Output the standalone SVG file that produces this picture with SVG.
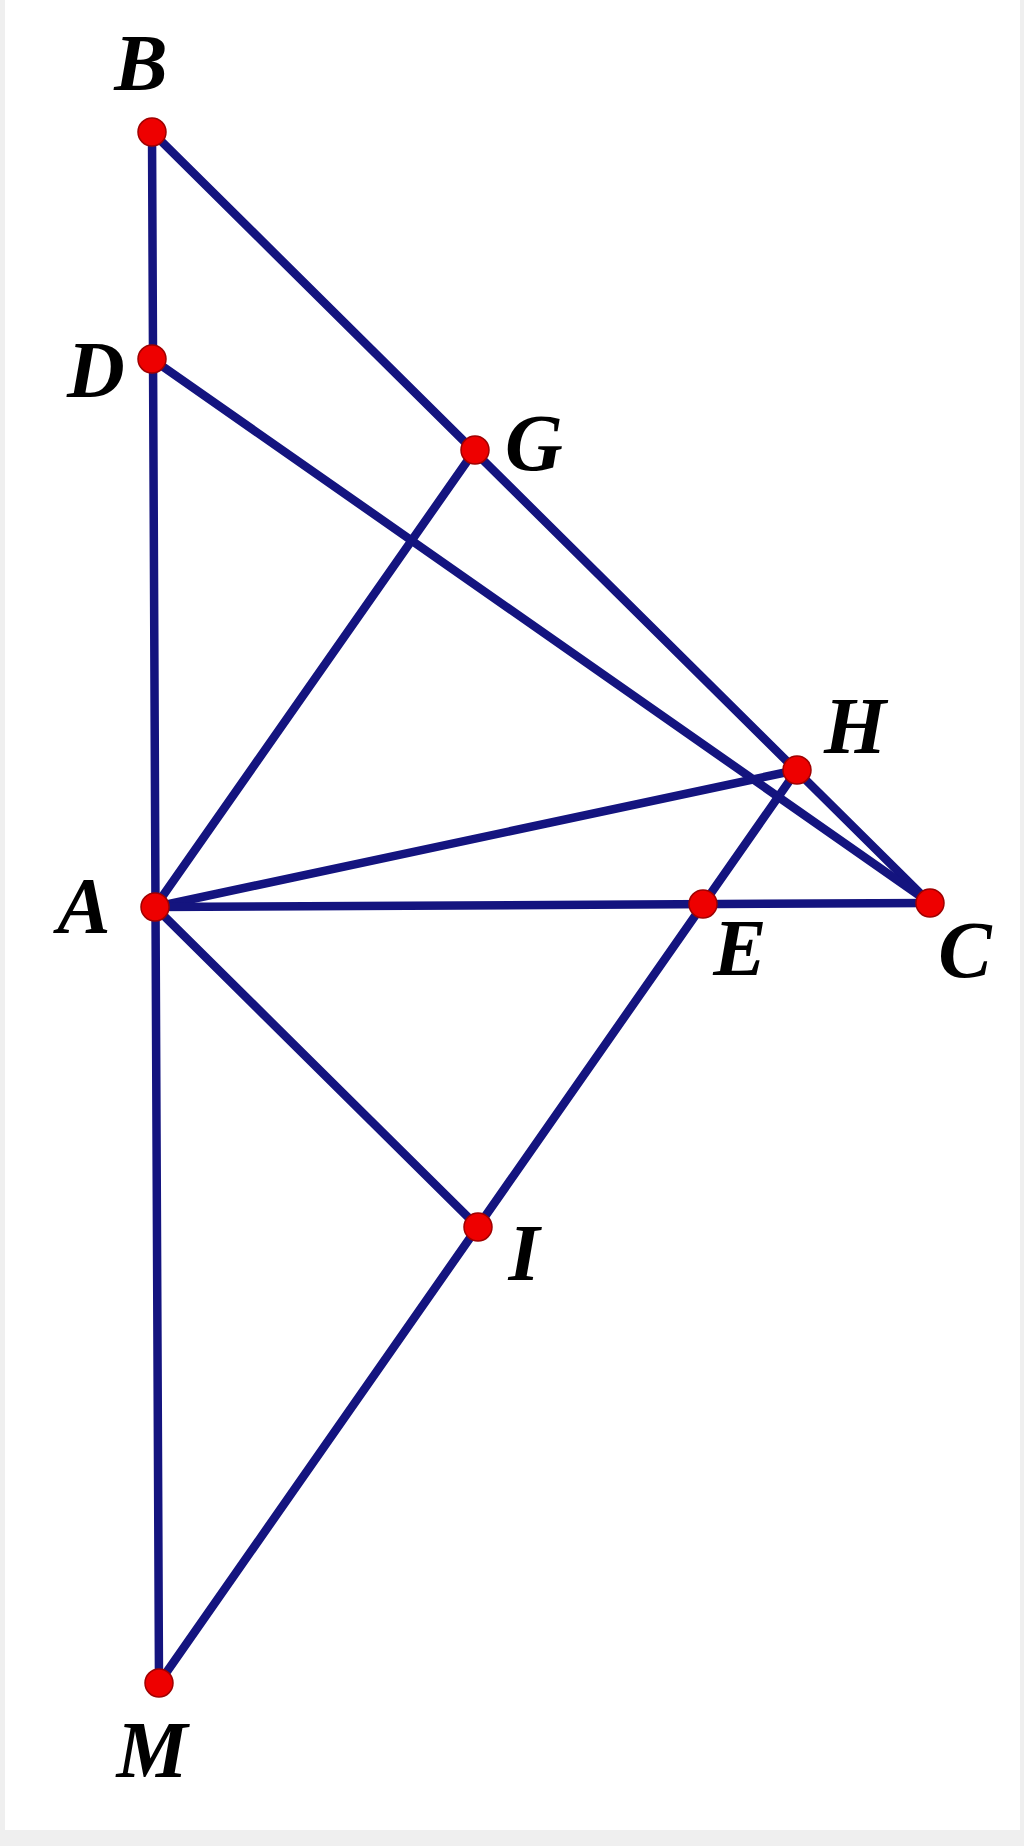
<svg xmlns="http://www.w3.org/2000/svg" width="1024" height="1846" viewBox="0 0 1024 1846">
<style>
.ln{stroke:#14147f;stroke-width:8.5;stroke-linecap:round;fill:none}
.pt{fill:#ee0000;stroke:#a00000;stroke-width:1.5}
.lb{font-family:"Liberation Serif","Times New Roman",serif;font-weight:bold;font-style:italic;font-size:80px;fill:#000;text-anchor:middle}
</style>
<rect x="0" y="0" width="1024" height="1846" fill="#efefef"/>
<rect x="5" y="0" width="1015" height="1830" fill="#ffffff"/>
<g id="connectors">
<line class="ln" x1="152" y1="132" x2="159" y2="1683"/>
<line class="ln" x1="152" y1="132" x2="930" y2="903"/>
<line class="ln" x1="152" y1="359" x2="930" y2="903"/>
<line class="ln" x1="155" y1="907" x2="475" y2="450"/>
<line class="ln" x1="155" y1="907" x2="797" y2="770"/>
<line class="ln" x1="155" y1="907" x2="930" y2="903"/>
<line class="ln" x1="797" y1="770" x2="159" y2="1683"/>
<line class="ln" x1="155" y1="907" x2="478" y2="1227"/>
</g>
<g id="node-B"><circle class="pt" cx="152" cy="132" r="14"/><text class="lb" x="141" y="90">B</text></g>
<g id="node-D"><circle class="pt" cx="152" cy="359" r="14"/><text class="lb" x="96" y="397">D</text></g>
<g id="node-G"><circle class="pt" cx="475" cy="450" r="14"/><text class="lb" x="534" y="470">G</text></g>
<g id="node-H"><circle class="pt" cx="797" cy="770" r="14"/><text class="lb" x="855" y="753">H</text></g>
<g id="node-A"><circle class="pt" cx="155" cy="907" r="14"/><text class="lb" x="84" y="933">A</text></g>
<g id="node-E"><circle class="pt" cx="703" cy="904" r="14"/><text class="lb" x="740" y="975">E</text></g>
<g id="node-C"><circle class="pt" cx="930" cy="903" r="14"/><text class="lb" x="965" y="977">C</text></g>
<g id="node-I"><circle class="pt" cx="478" cy="1227" r="14"/><text class="lb" x="524" y="1280">I</text></g>
<g id="node-M"><circle class="pt" cx="159" cy="1683" r="14"/><text class="lb" x="152" y="1777">M</text></g>
</svg>
